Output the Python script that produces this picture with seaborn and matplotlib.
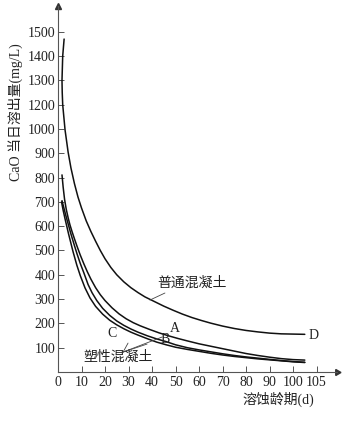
import numpy as np
import pandas as pd
import seaborn as sns
import matplotlib
matplotlib.use("Agg")
import matplotlib.pyplot as plt

# ---- data (y in axis-position units) ----
d_x = [2.6, 2.0, 1.7, 1.8, 2.0, 3.0, 4.3, 5.5, 7, 8.5, 10, 12, 14, 16, 18, 20, 22.5, 25, 28, 31,
       34, 37, 41, 45, 49, 53, 57, 61, 65, 70, 75, 80, 85, 90, 95, 100, 105]
d_y = [1370, 1300, 1200, 1150, 1100, 996, 905, 840, 775, 720, 675, 622, 578, 538, 500, 466, 430,
       400, 371, 347, 327, 309, 290, 271, 254, 238, 224, 212, 201, 189, 179, 171, 165, 160, 157,
       156, 155]

a_x = [1.7, 2.2, 2.8, 3.5, 4.3, 5.1, 6, 7, 8, 9.4, 11, 12.5, 14, 16, 18, 20, 23, 26, 29, 32, 35,
       39, 43, 47, 51, 55, 60, 65, 70, 75, 80, 85, 90, 95, 100, 105]
a_y = [811, 760, 710, 670, 635, 605, 577, 548, 520, 483, 445, 412, 382, 347, 318, 294, 264, 239,
       219, 203, 190, 175, 161, 149, 138, 128, 116, 106, 96, 86, 76, 68, 61, 55, 51, 49]

b_x = [1.7, 2.5, 3.3, 4.3, 5.5, 7, 8.1, 9.5, 11, 12.8, 14.5, 16.5, 19, 22, 25, 28, 31, 34, 38, 42,
       46, 50, 55, 60, 65, 70, 75, 80, 85, 90, 95, 100, 105]
b_y = [705, 675, 645, 610, 568, 520, 486, 446, 408, 360, 326, 294, 262, 233, 210, 192, 177, 164,
       149, 136, 125, 112, 100, 91, 83, 75, 68, 62, 57, 52, 47, 43, 40]

c_x = [1.5, 2.2, 3.0, 4.5, 6.4, 8, 9.5, 11.5, 13.6, 16, 19, 22, 25, 28, 31, 34, 38, 42, 46, 50,
       55, 60, 65, 70, 75, 80, 85, 90, 95, 100, 105]
c_y = [700, 665, 630, 568, 495, 440, 396, 346, 305, 270, 238, 213, 194, 178, 164, 152, 137, 123,
       112, 102, 93, 85, 77, 70, 64, 59, 54, 50, 46, 42, 39]

x_tick_pos = [0, 10, 20, 30, 40, 50, 60, 70, 80, 90, 100, 110]
x_tick_labels = ["0", "10", "20", "30", "40", "50", "60", "70", "80", "90", "100", "105"]
y_tick_pos = [100, 200, 300, 400, 500, 600, 700, 800, 900, 1000, 1100, 1200, 1300, 1400]
y_tick_labels = ["100", "200", "300", "400", "500", "600", "700", "800", "900",
                 "1000", "1200", "1300", "1400", "1500"]

curve_names = ["D", "A", "B", "C"]

frames = []
for name, xs, ys in zip(curve_names, [d_x, a_x, b_x, c_x], [d_y, a_y, b_y, c_y]):
    frames.append(pd.DataFrame({"x": xs, "y": ys, "curve": name}))
df = pd.concat(frames, ignore_index=True)

sns.set_style("ticks")
plt.rcParams["font.family"] = ["Liberation Serif", "Noto Sans CJK SC"]

fig = plt.figure(figsize=(3.51, 4.24), dpi=100)
ax = fig.add_axes([58/351, 52/424, 279/351, 366/424])

sns.lineplot(data=df, x="x", y="y", units="curve", estimator=None, sort=False,
             color="#111111", lw=1.1, ax=ax)

ax.set_xlim(0, 118.7)
ax.set_ylim(0, 1506)
ax.set_xticks(x_tick_pos)
ax.set_xticklabels(x_tick_labels)
ax.set_yticks(y_tick_pos)
ax.set_yticklabels(y_tick_labels)
ax.tick_params(axis="both", direction="in", length=4, width=0.7, color="#555555",
               labelsize=10, labelcolor="#222222")
ax.tick_params(axis="y", pad=2)
ax.tick_params(axis="x", pad=3)
ax.set_xlabel("")
ax.set_ylabel("")
for s in ["top", "right"]:
    ax.spines[s].set_visible(False)
for s in ["left", "bottom"]:
    ax.spines[s].set_color("#555555")
    ax.spines[s].set_linewidth(0.8)

# axis arrows
ax.plot(1, 0, marker=(3, 0, -90), ms=5, color="#333333", transform=ax.transAxes, clip_on=False)
ax.plot(0, 1, marker="^", ms=4, color="#333333", transform=ax.transAxes, clip_on=False)

# labels
fig.text(15/351, 1 - 112/424, "CaO 当日溶出量(mg/L)", rotation=90, ha="center", va="center",
         fontsize=10, color="#222222")
fig.text(278/351, 1 - 399/424, "溶蚀龄期(d)", ha="center", va="center", fontsize=10, color="#222222")

# annotations
ax.text(57.0, 366, "普通混凝土", ha="center", va="center", fontsize=10, color="#222222")
ax.plot([39.1, 45.5], [296, 325], color="#444444", lw=0.6)
ax.text(49.8, 181, "A", ha="center", va="center", fontsize=10, color="#222222")
ax.text(45.5, 132, "B", ha="center", va="center", fontsize=10, color="#222222")
ax.text(23.0, 160, "C", ha="center", va="center", fontsize=10, color="#222222")
ax.text(106.8, 152, "D", ha="left", va="center", fontsize=10, color="#222222")
ax.text(25.5, 62, "塑性混凝土", ha="center", va="center", fontsize=10, color="#222222")
for tx, ty in [(29.8, 119), (37.9, 115), (44.3, 144)]:
    ax.plot([27.7, tx], [82, ty], color="#444444", lw=0.6)

fig.savefig("out.png", dpi=100)
